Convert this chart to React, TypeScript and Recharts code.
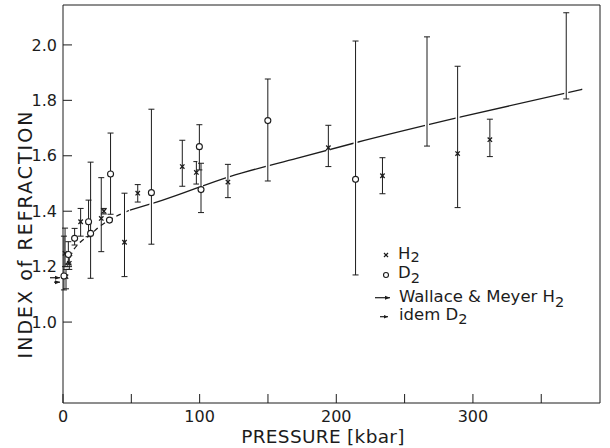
import React from "react";
import {
  ComposedChart,
  Line,
  Scatter,
  ErrorBar,
  XAxis,
  YAxis,
} from "recharts";

// H2 measurements: pressure (kbar), index, error bar ends
const h2P = [1.5, 2.2, 4.6, 12.9, 28, 29.9, 45, 54.7, 87.3, 97.6, 120.7, 194.2, 233.8, 288.8, 312.4];
const h2N = [1.248, 1.164, 1.212, 1.362, 1.374, 1.4, 1.288, 1.465, 1.561, 1.54, 1.505, 1.629, 1.528, 1.608, 1.658];
const h2Lo = [1.2, 1.12, 1.19, 1.31, 1.254, 1.39, 1.164, 1.433, 1.49, 1.498, 1.449, 1.561, 1.463, 1.413, 1.597];
const h2Hi = [1.339, 1.19, 1.24, 1.41, 1.521, 1.41, 1.465, 1.496, 1.656, 1.579, 1.569, 1.71, 1.593, 1.923, 1.732];

// D2 measurements
const d2P = [0.7, 3.9, 8.5, 18.7, 20.2, 34.0, 34.8, 64.7, 99.8, 101.0, 149.9, 214.1];
const d2N = [1.166, 1.244, 1.302, 1.362, 1.32, 1.368, 1.534, 1.467, 1.633, 1.478, 1.727, 1.515];
const d2Lo = [1.116, 1.21, 1.278, 1.308, 1.158, 1.368, 1.389, 1.281, 1.549, 1.395, 1.509, 1.17];
const d2Hi = [1.31, 1.29, 1.338, 1.44, 1.577, 1.368, 1.682, 1.768, 1.712, 1.573, 1.877, 2.014];

// error bars whose point lies off the scale
const barP = [266.4, 368.3];
const barLo = [1.635, 1.805];
const barHi = [2.029, 2.116];

// Wallace & Meyer curve
const fitP = [2, 4, 7, 13, 20, 26, 35, 49, 73, 122, 171, 214, 292, 380];
const fitN = [1.205, 1.222, 1.254, 1.29, 1.315, 1.342, 1.371, 1.404, 1.44, 1.525, 1.591, 1.647, 1.741, 1.84];

// zero-pressure values (arrows at the axis)
const wmH2Zero = 1.16;
const wmD2Zero = 1.144;

const xTicks = [0, 50, 100, 150, 200, 250, 300, 350];
const yTicks = [1.0, 1.2, 1.4, 1.6, 1.8, 2.0];

const INK = "#1c1c1c";
const FONT = "'DejaVu Sans', sans-serif";

const toRows = (P: number[], N: number[], lo: number[], hi: number[]) =>
  P.map((p, i) => {
    const err = [N[i] - lo[i], hi[i] - N[i]];
    return { p, n: N[i], err, halo: p > 40 ? err : [0, 0] };
  });

const h2Rows = toRows(h2P, h2N, h2Lo, h2Hi);
const d2Rows = toRows(d2P, d2N, d2Lo, d2Hi);
const barRows = toRows(
  barP,
  barP.map((_, i) => (barLo[i] + barHi[i]) / 2),
  barLo,
  barHi
);
const fitRows = fitP.map((p, i) => ({ p, n: fitN[i] }));
const fitLow = fitRows.filter((r) => r.p <= 49);
const fitHigh = fitRows.filter((r) => r.p >= 49);
const zeroH2 = [{ p: 0, n: wmH2Zero }];
const zeroD2 = [{ p: 0, n: wmD2Zero }];

const Cross = (props: any) => {
  const { cx, cy } = props;
  const s = 2.2;
  return (
    <g stroke={INK} strokeWidth={1.3}>
      <line x1={cx - s} y1={cy - s} x2={cx + s} y2={cy + s} />
      <line x1={cx - s} y1={cy + s} x2={cx + s} y2={cy - s} />
    </g>
  );
};

const Ring = (props: any) => (
  <circle cx={props.cx} cy={props.cy} r={3} fill="#fff" stroke={INK} strokeWidth={1.1} />
);

const Nothing = () => <g />;

const arrowAt = (len: number) => (props: any) => {
  const { cx, cy } = props;
  const end = cx - 3;
  return (
    <g>
      <line x1={end - len} y1={cy} x2={end} y2={cy} stroke={INK} strokeWidth={1.2} />
      <path d={`M${end} ${cy} L${end - 5} ${cy - 2} L${end - 5} ${cy + 2} Z`} fill={INK} />
    </g>
  );
};

const tickFont = { fontSize: 16, fill: INK, fontFamily: FONT };

const Overlay = () => (
  <svg
    width={610}
    height={448}
    style={{ position: "absolute", left: 0, top: 0, pointerEvents: "none" }}
    fontFamily={FONT}
    fill={INK}
  >
    <text fontSize={18.5} textAnchor="middle" letterSpacing={0.3} x={323} y={443}>
      PRESSURE [kbar]
    </text>
    <text fontSize={19} textAnchor="middle" letterSpacing={2} transform="translate(31.5,234) rotate(-90)">
      INDEX of REFRACTION
    </text>

    {/* legend */}
    <g stroke={INK} strokeWidth={1.2}>
      <line x1={384} y1={253} x2={388} y2={257} />
      <line x1={384} y1={257} x2={388} y2={253} />
    </g>
    <circle cx={386} cy={275} r={2.5} fill="#fff" stroke={INK} strokeWidth={1.1} />
    <line x1={375} y1={297.7} x2={390} y2={297.7} stroke={INK} strokeWidth={1.2} />
    <path d="M390 297.7 L385 295.7 L385 299.7 Z" />
    <line x1={380} y1={316.7} x2={388} y2={316.7} stroke={INK} strokeWidth={1.2} />
    <path d="M388 316.7 L384 314.9 L384 318.5 Z" />
    <g fontSize={16.5}>
      <text x={398} y={259}>
        H<tspan fontSize={14.5} dy={3}>2</tspan>
      </text>
      <text x={398} y={277.5}>
        D<tspan fontSize={14.5} dy={5}>2</tspan>
      </text>
      <text x={399} y={302}>
        Wallace &amp; Meyer H<tspan fontSize={14.5} dy={5}>2</tspan>
      </text>
      <text x={399} y={320}>
        idem D<tspan fontSize={14.5} dy={4}>2</tspan>
      </text>
    </g>
  </svg>
);

export default function App() {
  return (
    <div style={{ position: "absolute", left: 0, top: 0, width: 610, height: 448, background: "#fff" }}>
      <ComposedChart width={610} height={448} margin={{ top: 4, right: 9, bottom: 0, left: 0 }}>
        <XAxis
          xAxisId="b"
          type="number"
          dataKey="p"
          domain={[0, 393]}
          ticks={xTicks}
          interval={0}
          height={45}
          tickSize={-9}
          tickMargin={17}
          tickLine={{ stroke: INK }}
          tick={tickFont}
          tickFormatter={(v: number) => (v % 100 === 0 ? String(v) : "")}
          axisLine={{ stroke: INK }}
        />
        <XAxis
          xAxisId="t"
          orientation="top"
          type="number"
          dataKey="p"
          domain={[0, 393]}
          ticks={xTicks.slice(1)}
          interval={0}
          height={1}
          tickSize={-9}
          tickMargin={0}
          tickLine={{ stroke: INK }}
          tick={false}
          axisLine={{ stroke: INK }}
        />
        <YAxis
          yAxisId="l"
          type="number"
          dataKey="n"
          domain={[0.708, 2.144]}
          ticks={yTicks}
          interval={0}
          width={63}
          tickSize={-9}
          tickMargin={15}
          tickLine={{ stroke: INK }}
          tick={tickFont}
          tickFormatter={(v: number) => v.toFixed(1)}
          axisLine={{ stroke: INK }}
        />
        <YAxis
          yAxisId="r"
          orientation="right"
          type="number"
          dataKey="n"
          domain={[0.708, 2.144]}
          ticks={yTicks}
          interval={0}
          width={1}
          tickSize={-9}
          tickMargin={0}
          tickLine={{ stroke: INK }}
          tick={false}
          axisLine={{ stroke: INK }}
        />

        <Line
          xAxisId="b"
          yAxisId="l"
          data={fitLow}
          dataKey="n"
          type="monotone"
          dot={false}
          stroke={INK}
          strokeWidth={1.3}
          strokeDasharray="5 4"
          isAnimationActive={false}
        />
        <Line
          xAxisId="b"
          yAxisId="l"
          data={fitHigh}
          dataKey="n"
          type="monotone"
          dot={false}
          stroke={INK}
          strokeWidth={1.3}
          isAnimationActive={false}
        />

        <Scatter xAxisId="b" yAxisId="l" data={h2Rows} dataKey="n" shape={Cross} isAnimationActive={false}>
          <ErrorBar dataKey="halo" direction="y" width={0} stroke="#fff" strokeWidth={4} />
          <ErrorBar dataKey="err" direction="y" width={3} stroke={INK} strokeWidth={1} />
        </Scatter>
        <Scatter xAxisId="b" yAxisId="l" data={d2Rows} dataKey="n" shape={Ring} isAnimationActive={false}>
          <ErrorBar dataKey="halo" direction="y" width={0} stroke="#fff" strokeWidth={4} />
          <ErrorBar dataKey="err" direction="y" width={3} stroke={INK} strokeWidth={1} />
        </Scatter>
        <Scatter xAxisId="b" yAxisId="l" data={barRows} dataKey="n" shape={Nothing} isAnimationActive={false}>
          <ErrorBar dataKey="halo" direction="y" width={0} stroke="#fff" strokeWidth={4} />
          <ErrorBar dataKey="err" direction="y" width={3} stroke={INK} strokeWidth={1} />
        </Scatter>
        <Scatter xAxisId="b" yAxisId="l" data={zeroH2} dataKey="n" shape={arrowAt(10)} isAnimationActive={false} />
        <Scatter xAxisId="b" yAxisId="l" data={zeroD2} dataKey="n" shape={arrowAt(6)} isAnimationActive={false} />
      </ComposedChart>
      <Overlay />
    </div>
  );
}
